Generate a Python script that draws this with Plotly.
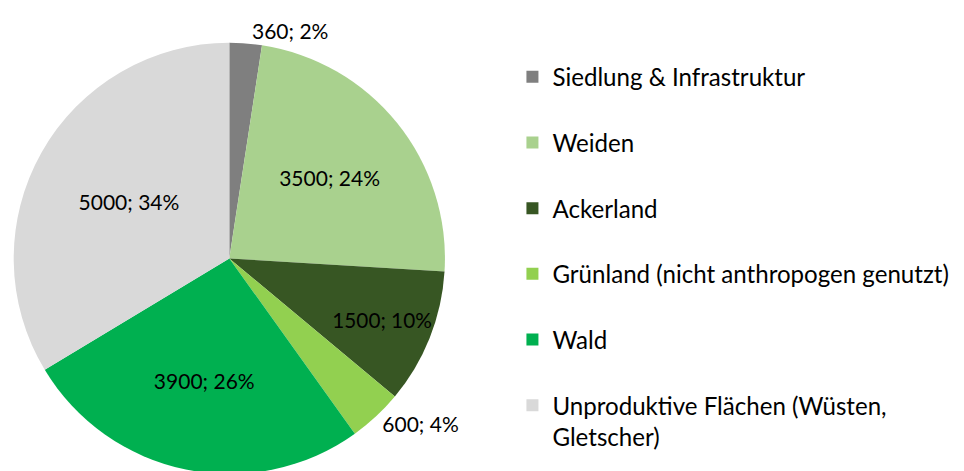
import plotly.graph_objects as go

categories = ["Siedlung & Infrastruktur", "Weiden", "Ackerland",
              "Grünland (nicht anthropogen genutzt)", "Wald",
              "Unproduktive Flächen (Wüsten, Gletscher)"]
values = [360, 3500, 1500, 600, 3900, 5000]
colors = ["#7f7f7f", "#a9d18e", "#375623", "#92d050", "#00b050", "#d9d9d9"]
text_positions = ["outside", "inside", "inside", "outside", "inside", "inside"]

FONT = "Lato"


def legend_label(name):
    if name.startswith("Unproduktive"):
        return "Unproduktive Flächen (Wüsten,<br>Gletscher)"
    return name + "<br>\u00a0"


labels = [legend_label(c) for c in categories]

W, H = 964, 471
# page body has an 8px margin; positions below are in figure coordinates
cx, cy, r = 219, 252, 217

fig = go.Figure(go.Pie(
    labels=labels,
    values=values,
    sort=False,
    direction="clockwise",
    rotation=0,
    marker=dict(colors=colors, line=dict(width=0)),
    texttemplate="%{value}; %{percent:.0%}",
    textposition=text_positions,
    insidetextorientation="horizontal",
    textfont=dict(family=FONT, size=21, color="#000000"),
    insidetextfont=dict(family=FONT, size=21, color="#000000"),
    outsidetextfont=dict(family=FONT, size=21, color="#000000"),
    domain=dict(x=[(cx - r) / W, (cx + r) / W], y=[(H - cy - r) / H, (H - cy + r) / H]),
    hoverinfo="skip",
))

fig.update_layout(
    width=W, height=H,
    margin=dict(l=0, r=0, t=0, b=0),
    paper_bgcolor="white",
    font=dict(family=FONT, color="#000000"),
    showlegend=True,
    legend=dict(
        x=503 / W, xanchor="left",
        y=1 - 47 / H, yanchor="top",
        valign="top",
        font=dict(family=FONT, size=24.1, color="#000000"),
        bgcolor="rgba(0,0,0,0)",
    ),
)

fig.write_html("out.html")
